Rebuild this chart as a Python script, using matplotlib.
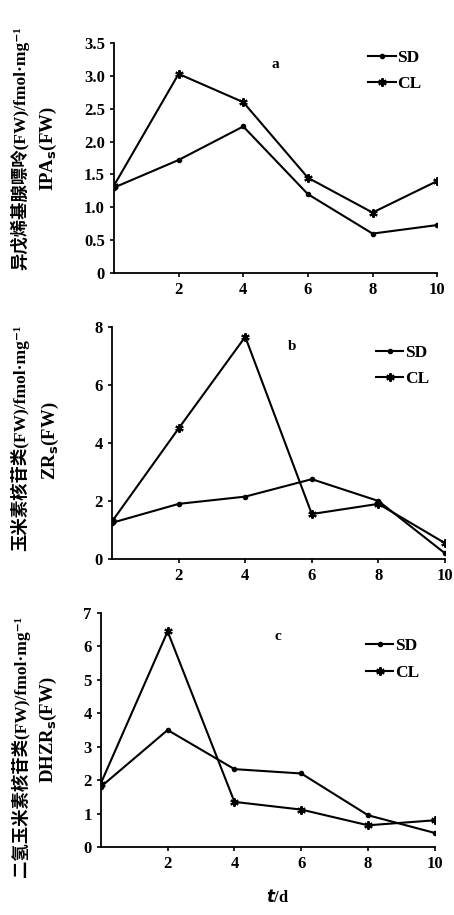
import numpy as np
import matplotlib.pyplot as plt

plt.rcParams['font.family'] = ['Liberation Serif', 'Noto Sans CJK SC', 'DejaVu Sans']
plt.rcParams['font.weight'] = 'bold'

# 数据
days = [0, 2, 4, 6, 8, 10]
xticks = [2, 4, 6, 8, 10]

ipa_sd = [1.30, 1.72, 2.23, 1.20, 0.60, 0.73]
ipa_cl = [1.33, 3.03, 2.60, 1.45, 0.92, 1.40]

zr_sd = [1.25, 1.90, 2.15, 2.75, 2.00, 0.20]
zr_cl = [1.30, 4.50, 7.65, 1.55, 1.90, 0.55]

dhzr_sd = [1.80, 3.50, 2.33, 2.20, 0.95, 0.42]
dhzr_cl = [1.90, 6.45, 1.35, 1.12, 0.65, 0.80]

panels = [
    dict(pos=[0.251, 0.7016, 0.712, 0.2514], sd=ipa_sd, cl=ipa_cl, ylim=3.5,
         yticks=[0, 0.5, 1.0, 1.5, 2.0, 2.5, 3.0, 3.5],
         ylab=['0', '0.5', '1.0', '1.5', '2.0', '2.5', '3.0', '3.5'],
         letter='a', lpos=(5.0, 3.12),
         l1='异戊烯基腺嘌呤(FW)/fmol·mg⁻¹', l2='IPA$_\\mathrm{s}$(FW)',
         t1=(0.044, 0.838), t2=(0.106, 0.838), leg=1.04),
    dict(pos=[0.247, 0.389, 0.733, 0.254], sd=zr_sd, cl=zr_cl, ylim=8,
         yticks=[0, 2, 4, 6, 8], ylab=['0', '2', '4', '6', '8'],
         letter='b', lpos=(5.4, 7.2),
         l1='玉米素核苷类(FW)/fmol·mg⁻¹', l2='ZR$_\\mathrm{s}$(FW)',
         t1=(0.044, 0.521), t2=(0.110, 0.518), leg=0.99),
    dict(pos=[0.222, 0.0743, 0.736, 0.2557], sd=dhzr_sd, cl=dhzr_cl, ylim=7,
         yticks=[0, 1, 2, 3, 4, 5, 6, 7], ylab=['0', '1', '2', '3', '4', '5', '6', '7'],
         letter='c', lpos=(5.3, 6.2),
         l1='二氢玉米素核苷类(FW)/fmol·mg⁻¹', l2='DHZR$_\\mathrm{s}$(FW)',
         t1=(0.044, 0.184), t2=(0.106, 0.202), leg=0.96),
]

fig = plt.figure(figsize=(4.54, 9.15), dpi=100)

for p in panels:
    ax = fig.add_axes(p['pos'])
    ax.plot(days, p['sd'], color='black', lw=1.5, marker='o', ms=3, label='SD')
    ax.plot(days, p['cl'], color='black', lw=1.5, marker=(6, 2, 0), ms=6,
            mew=1.5, label='CL')
    ax.set_xlim(0, 10)
    ax.set_ylim(0, p['ylim'])
    ax.set_xticks(xticks)
    ax.set_yticks(p['yticks'])
    ax.set_yticklabels(p['ylab'])
    ax.tick_params(labelsize=12, length=3, width=1.2, direction='out')
    for s in ['top', 'right']:
        ax.spines[s].set_visible(False)
    for s in ['left', 'bottom']:
        ax.spines[s].set_linewidth(1.3)
    ax.text(p['lpos'][0], p['lpos'][1], p['letter'], fontsize=11,
            fontweight='bold', ha='center')
    ax.legend(loc='upper right', bbox_to_anchor=(1.0, p['leg']),
              frameon=False, fontsize=12.5, handlelength=1.6, handletextpad=0.1,
              labelspacing=0.6)
    fig.text(p['t1'][0], p['t1'][1], p['l1'], rotation=90, ha='center',
             va='center', fontsize=12.5, fontweight='bold')
    fig.text(p['t2'][0], p['t2'][1], p['l2'], rotation=90, ha='center',
             va='center', fontsize=13.5, fontweight='bold')

fig.text(0.612, 0.014, '$t$/d', ha='center', fontsize=12)

fig.savefig('out.png', dpi=100)
